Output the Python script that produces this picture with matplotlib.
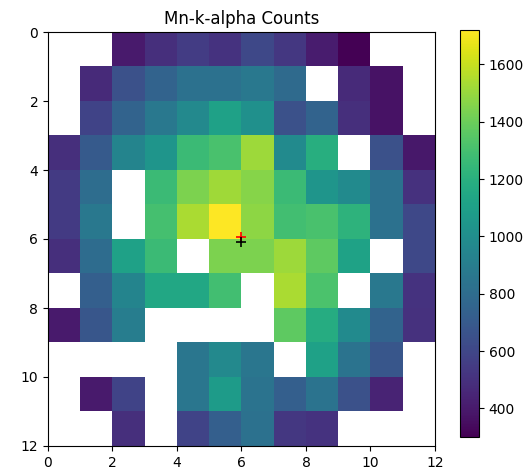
import numpy as np
import matplotlib
matplotlib.use("Agg")
import matplotlib.pyplot as plt

N = np.nan
title = "Mn-k-alpha Counts"
row0  = [N, N, 400, 490, 555, 510, 610, 530, 410, 300, N, N]
row1  = [N, 470, 650, 750, 830, 830, 870, 790, N, 470, 370, N]
row2  = [N, 585, 750, 870, 970, 1110, 1010, 650, 750, 490, 370, N]
row3  = [490, 700, 940, 1040, 1270, 1310, 1510, 980, 1190, N, 650, 390]
row4  = [540, 810, N, 1270, 1440, 1520, 1460, 1270, 1040, 980, 830, 500]
row5  = [540, 870, N, 1300, 1540, 1720, 1480, 1290, 1310, 1220, 830, 610]
row6  = [490, 800, 1110, 1270, N, 1440, 1440, 1510, 1370, 1120, N, 610]
row7  = [N, 730, 940, 1150, 1150, 1290, N, 1540, 1320, N, 870, 510]
row8  = [400, 680, 900, N, N, N, N, 1370, 1180, 980, 750, 500]
row9  = [N, N, N, N, 860, 970, 860, N, 1110, 840, 680, N]
row10 = [N, 400, 585, N, 860, 1080, 840, 730, 840, 650, 440, N]
row11 = [N, N, 490, N, 585, 730, 830, 530, 510, N, N, N]
marker_red = (6.0, 5.95)
marker_black = (6.0, 6.1)
cbar_ticks = [400, 600, 800, 1000, 1200, 1400, 1600]

data = np.array([row0, row1, row2, row3, row4, row5, row6, row7, row8,
                 row9, row10, row11], dtype=float)

fig = plt.figure(figsize=(5.25, 4.74), dpi=100)
ax = fig.add_axes([48/525, (474-446)/474, 387/525, 414/474])
cax = fig.add_axes([460/525, (474-437)/474, 19/525, 407/474])

im = ax.imshow(data, cmap="viridis", extent=[0, 12, 12, 0], aspect="auto",
               vmin=300, vmax=1720, interpolation="nearest")
ax.plot([marker_red[0]], [marker_red[1]], "+", color="red", ms=6.5, mew=1.2)
ax.plot([marker_black[0]], [marker_black[1]], "+", color="black", ms=6.5, mew=1.2)
ax.set_xlim(0, 12)
ax.set_ylim(12, 0)
ax.set_xticks([0, 2, 4, 6, 8, 10, 12])
ax.set_yticks([0, 2, 4, 6, 8, 10, 12])
ax.set_title(title, fontsize=12)

cb = fig.colorbar(im, cax=cax)
cb.set_ticks(cbar_ticks)

fig.savefig("out.png", dpi=100)
